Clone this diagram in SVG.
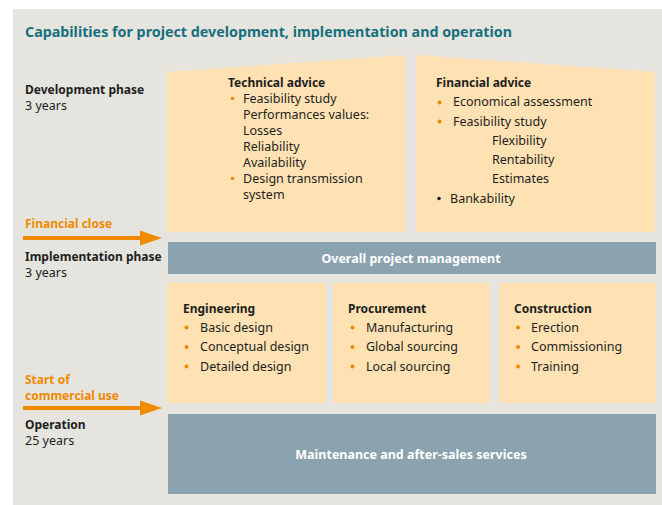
<svg xmlns="http://www.w3.org/2000/svg" width="662" height="505" viewBox="0 0 662 505">
<defs>
<style>
text{font-family:"Noto Sans","Open Sans","Liberation Sans",sans-serif;font-size:12.5px;fill:#1e1e1e}
.b{font-weight:bold;font-size:12px}
.title{font-size:14.5px;font-weight:bold;fill:#16707c}
.or{fill:#f08a00}
.w{fill:#ffffff;font-weight:bold;font-size:12.5px}
.box{fill:#ffe2b3}
.bar{fill:#8aa3ae}
.dot{fill:#f08a00}
</style>
</defs>
<rect x="13" y="9" width="649" height="496" fill="#e5e4de"/>
<text x="25" y="37" class="title" textLength="487" lengthAdjust="spacingAndGlyphs">Capabilities for project development, implementation and operation</text>

<g id="labels">
<text x="25" y="94" class="b">Development phase</text>
<text x="25" y="110">3 years</text>
<text x="25" y="228" class="or b">Financial close</text>
<text x="25" y="261" class="b">Implementation phase</text>
<text x="25" y="277">3 years</text>
<text x="25" y="384" class="or b">Start of</text>
<text x="25" y="400" class="or b">commercial use</text>
<text x="25" y="429" class="b">Operation</text>
<text x="25" y="445">25 years</text>
</g>

<g id="connectors">
<path d="M23,238 H141" stroke="#f08a00" stroke-width="4"/>
<path d="M140,230.5 L162,238 L140,245.5 z" fill="#f08a00"/>
<path d="M23,408 H141" stroke="#f08a00" stroke-width="4"/>
<path d="M140,400.5 L162,408 L140,415.5 z" fill="#f08a00"/>
</g>

<g id="technical-advice">
<path class="box" d="M167,72 L405,55 L405,232 L167,232 z"/>
<text x="228" y="87" class="b">Technical advice</text>
<circle class="dot" cx="232.5" cy="98.5" r="1.8"/>
<text x="243" y="103">Feasibility study</text>
<text x="243" y="119">Performances values:</text>
<text x="243" y="135">Losses</text>
<text x="243" y="151">Reliability</text>
<text x="243" y="167">Availability</text>
<circle class="dot" cx="232.5" cy="178.5" r="1.8"/>
<text x="243" y="183">Design transmission</text>
<text x="243" y="199">system</text>
</g>

<g id="financial-advice">
<path class="box" d="M416,55 L655,72 L655,232 L416,232 z"/>
<text x="436" y="87" class="b">Financial advice</text>
<circle class="dot" cx="439.5" cy="102.5" r="2"/>
<text x="453" y="106">Economical assessment</text>
<circle class="dot" cx="439.5" cy="121.5" r="2"/>
<text x="453" y="126">Feasibility study</text>
<text x="492" y="145">Flexibility</text>
<text x="492" y="164">Rentability</text>
<text x="492" y="183">Estimates</text>
<circle cx="439" cy="198.5" r="1.8" fill="#1e1e1e"/>
<text x="450" y="203">Bankability</text>
</g>

<g id="overall-project-management">
<rect class="bar" x="168" y="242" width="488" height="32"/>
<text x="411" y="263" class="w" text-anchor="middle">Overall project management</text>
</g>

<g id="engineering">
<rect class="box" x="167" y="283" width="159" height="120"/>
<text x="183" y="313" class="b">Engineering</text>
<circle class="dot" cx="186.5" cy="327.5" r="2"/>
<text x="200" y="332">Basic design</text>
<circle class="dot" cx="186.5" cy="347" r="2"/>
<text x="200" y="351">Conceptual design</text>
<circle class="dot" cx="186.5" cy="366.5" r="2"/>
<text x="200" y="371">Detailed design</text>
</g>

<g id="procurement">
<rect class="box" x="333" y="283" width="157" height="120"/>
<text x="348" y="313" class="b">Procurement</text>
<circle class="dot" cx="352.5" cy="327.5" r="2"/>
<text x="366" y="332">Manufacturing</text>
<circle class="dot" cx="352.5" cy="347" r="2"/>
<text x="366" y="351">Global sourcing</text>
<circle class="dot" cx="352.5" cy="366.5" r="2"/>
<text x="366" y="371">Local sourcing</text>
</g>

<g id="construction">
<rect class="box" x="499" y="283" width="157" height="120"/>
<text x="514" y="313" class="b">Construction</text>
<circle class="dot" cx="518" cy="327.5" r="2"/>
<text x="531" y="332">Erection</text>
<circle class="dot" cx="518" cy="347" r="2"/>
<text x="531" y="351">Commissioning</text>
<circle class="dot" cx="518" cy="366.5" r="2"/>
<text x="531" y="371">Training</text>
</g>

<g id="maintenance">
<rect class="bar" x="168" y="414" width="488" height="80"/>
<text x="411" y="459" class="w" text-anchor="middle">Maintenance and after-sales services</text>
</g>
</svg>
